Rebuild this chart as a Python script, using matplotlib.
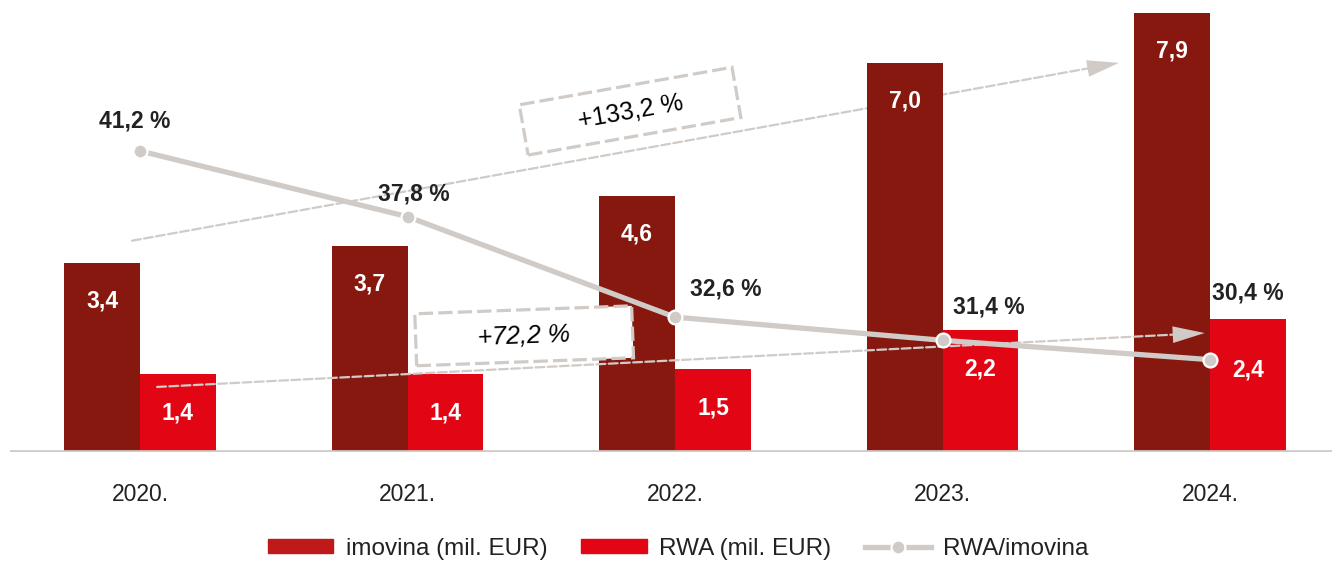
import matplotlib
matplotlib.use("Agg")
import matplotlib.pyplot as plt
import matplotlib.transforms as mtransforms
from matplotlib.patches import Patch, Rectangle
from matplotlib.lines import Line2D

plt.rcParams['font.family'] = ['Liberation Sans', 'DejaVu Sans']

years = ['2020.', '2021.', '2022.', '2023.', '2024.']
imovina = [3.4, 3.7, 4.6, 7.0, 7.9]
rwa = [1.4, 1.4, 1.5, 2.2, 2.4]
ratio = [41.2, 37.8, 32.6, 31.4, 30.4]
ratio_labels = ['41,2 %', '37,8 %', '32,6 %', '31,4 %', '30,4 %']
growth_rwa = '+72,2 %'
growth_imovina = '+133,2 %'

DARK = '#87180F'
DARK_LEG = '#C0191A'
RED = '#E20614'
GREY = '#D0CBC7'
TXT = '#222222'
FS = 16.5
PX = 0.72  # points per pixel at dpi 100


def fmt(v):
    return f'{v:.1f}'.replace('.', ',')


fig = plt.figure(figsize=(13.32, 5.64), dpi=100)
ax = fig.add_axes([10 / 1332, 112 / 564, 1322 / 1332, 444.8 / 564])
ax.set_xlim(-0.486, 4.456)
ax.set_ylim(0, 8.0)

x = list(range(len(years)))
w = 0.284
ax.bar([i - w / 2 for i in x], imovina, width=w, color=DARK, zorder=2)
ax.bar([i + w / 2 for i in x], rwa, width=w, color=RED, zorder=2)
ax.axhline(0, color=GREY, lw=3.4, zorder=3)

# bar value labels
for i in x:
    ax.annotate(fmt(imovina[i]), (i - w / 2, imovina[i]), xytext=(0, -38 * PX),
                textcoords='offset points', ha='center', va='center',
                color='white', fontsize=FS, fontweight='bold', zorder=6)
    off = -51 if i == 4 else -39
    ax.annotate(fmt(rwa[i]), (i + w / 2, rwa[i]), xytext=(0, off * PX),
                textcoords='offset points', ha='center', va='center',
                color='white', fontsize=FS, fontweight='bold', zorder=6)

for s in ax.spines.values():
    s.set_visible(False)
ax.set_yticks([])
ax.set_xticks(x)
ax.set_xticklabels(years, fontsize=FS, color=TXT)
ax.tick_params(axis='x', length=0, pad=22)

# growth arrows (annotation geometry in data units); upper one runs behind bars
arrows = [((0.064, 1.17), (3.98, 2.14), 4), ((-0.03, 3.8), (3.66, 7.0), 1)]
for (x0, y0), (x1, y1), z in arrows:
    ax.annotate('', xy=(x1, y1), xytext=(x0, y0),
                arrowprops=dict(arrowstyle='-', color=GREY, lw=1.6,
                                ls=(0, (4, 1.5)), shrinkA=0, shrinkB=20),
                zorder=z)
    ax.annotate('', xy=(x1, y1), xytext=(x0, y0),
                arrowprops=dict(arrowstyle='-|>,head_length=1.15,head_width=0.3',
                                mutation_scale=20, fc=GREY, ec=GREY, lw=0,
                                shrinkA=0, shrinkB=0),
                zorder=z)

# secondary axis for the ratio line
ax2 = ax.twinx()
ax2.set_ylim(25.62, 48.64)
ax2.set_yticks([])
for s in ax2.spines.values():
    s.set_visible(False)

# dashed boxes with growth labels
boxes = [(1.436, 2.09, 217, 52, 2.1, growth_rwa, 'italic'),
         (1.832, 6.13, 216, 51, 10.0, growth_imovina, 'normal')]
for bx, by, bw, bh, ang, lab, st in boxes:
    cx, cy = ax.transData.transform((bx, by))
    tr = mtransforms.Affine2D().rotate_deg(ang).translate(cx, cy)
    rect = Rectangle((-bw / 2, -bh / 2), bw, bh, transform=tr, fc='white',
                     ec=GREY, lw=2.3, ls=(0, (4.5, 1.6)), clip_on=False,
                     zorder=3)
    ax2.add_artist(rect)
    ax2.text(bx, by, lab, rotation=ang, rotation_mode='anchor', ha='center',
             va='center', fontsize=18, color='black', style=st, zorder=4,
             transform=ax.transData)

ax2.plot(x, ratio, color=GREY, lw=3.8, marker='o', ms=10, mfc=GREY,
         mec='white', mew=1.6, zorder=5, solid_capstyle='butt')
offsets = [(-5, -30), (6, -23), (51, -28), (46, -33), (38, -67)]
for i, lab in enumerate(ratio_labels):
    ax2.annotate(lab, (x[i], ratio[i]),
                 xytext=(offsets[i][0] * PX, -offsets[i][1] * PX),
                 textcoords='offset points', ha='center', va='center',
                 color=TXT, fontsize=FS, fontweight='bold', zorder=7)

handles = [Patch(color=DARK_LEG), Patch(color=RED),
           Line2D([], [], color=GREY, lw=3.8, marker='o', ms=10, mfc=GREY,
                  mec='white', mew=1.6)]
labels = ['imovina (mil. EUR)', 'RWA (mil. EUR)', 'RWA/imovina']
fig.legend(handles, labels, loc='center', bbox_to_anchor=(0.509, 15 / 564),
           ncol=3, frameon=False, fontsize=17.5, handlelength=2.7,
           handleheight=0.5, handletextpad=0.5, columnspacing=1.4,
           labelcolor=TXT)

fig.savefig('out.png', dpi=100)
